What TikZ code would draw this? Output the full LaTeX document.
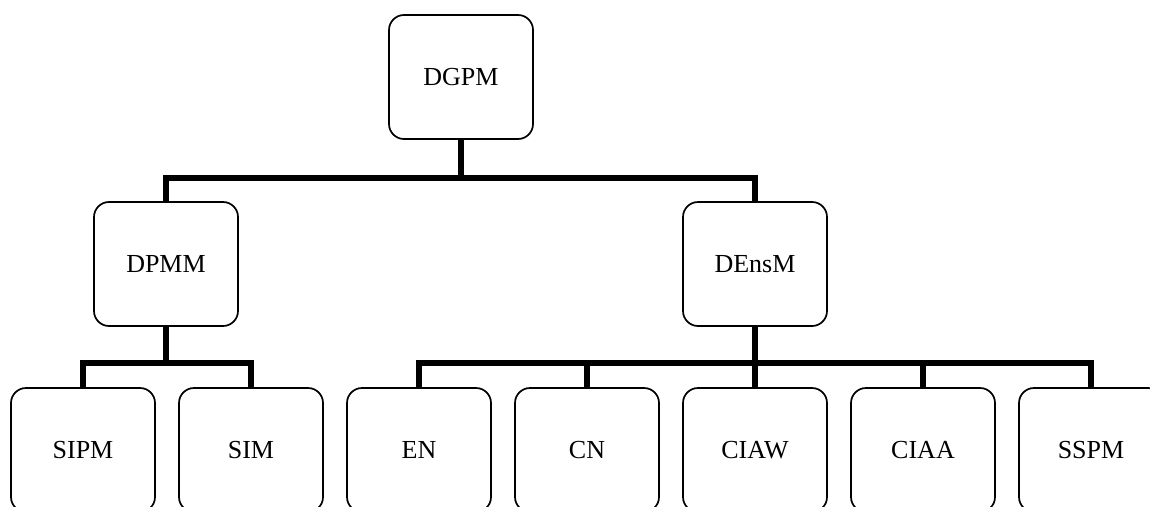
\documentclass[tikz,border=0pt]{standalone}
\usepackage{fontspec}
\setmainfont{Liberation Serif}
\begin{document}
\begin{tikzpicture}[x=1pt,y=-1pt,
  unit/.style={draw=black, line width=1.7pt, rounded corners=15pt,
    minimum width=144pt, minimum height=124pt, inner sep=0pt, outer sep=0pt,
    font=\fontsize{26}{30}\selectfont},
  bus/.style={draw=black, line width=6pt, line join=miter}]
\useasboundingbox (0,0) rectangle (1150,506);
\clip (0,0) rectangle (1150,506);

% top level
\node[unit] (dgpm) at (461,77) {DGPM};

% second level
\node[unit] (dpmm)  at (166,264) {DPMM};
\node[unit] (densm) at (755,264) {DEnsM};

% third level
\node[unit] (sipm) at (83,450)   {SIPM};
\node[unit] (sim)  at (251,450)  {SIM};
\node[unit] (en)   at (419,450)  {EN};
\node[unit] (cn)   at (587,450)  {CN};
\node[unit] (ciaw) at (755,450)  {CIAW};
\node[unit] (ciaa) at (923,450)  {CIAA};
\node[unit] (sspm) at (1091,450) {SSPM};

% connectors
\draw[bus] (dgpm.south) -- ++(0,39) coordinate (b1);
\draw[bus] (dpmm.north) |- (b1) -| (densm.north);

\draw[bus] (dpmm.south) -- ++(0,37) coordinate (b2);
\draw[bus] (sipm.north) |- (b2) -| (sim.north);

\draw[bus] (densm.south) -- ++(0,37) coordinate (b3);
\draw[bus] (en.north) |- (b3) -| (sspm.north);
\draw[bus] (cn.north) -- (cn.north |- b3);
\draw[bus] (ciaw.north) -- (ciaw.north |- b3);
\draw[bus] (ciaa.north) -- (ciaa.north |- b3);
\end{tikzpicture}
\end{document}
